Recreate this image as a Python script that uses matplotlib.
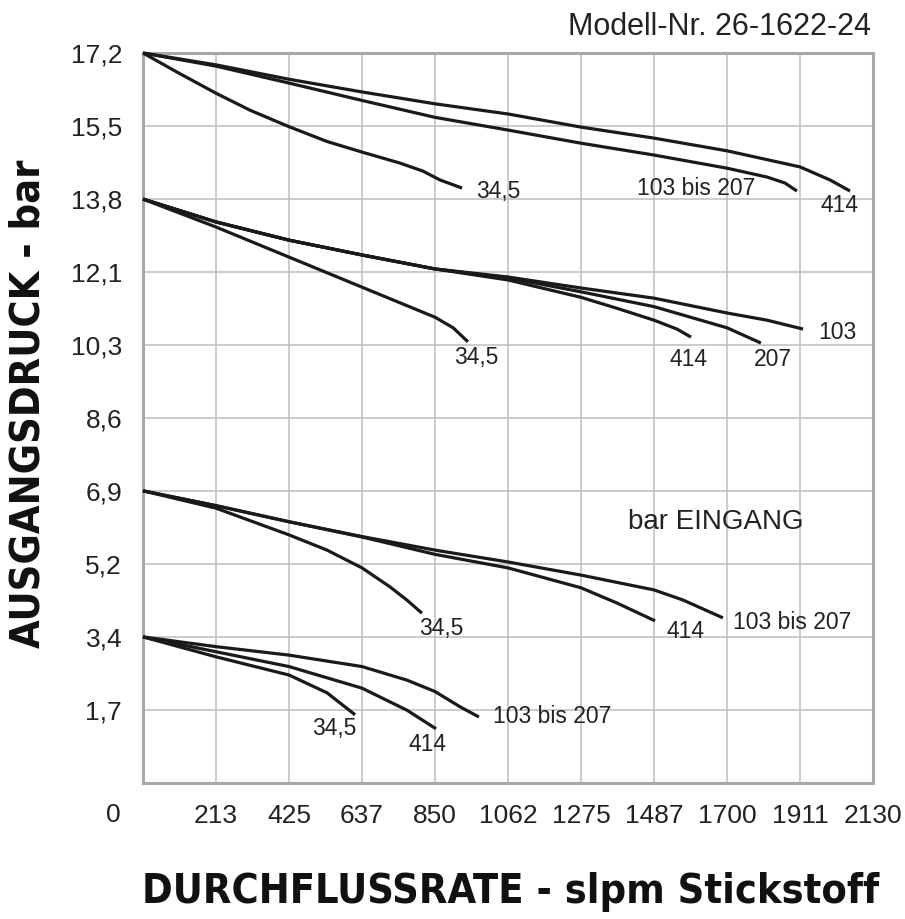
import numpy as np
import matplotlib
matplotlib.use("Agg")
import matplotlib.pyplot as plt

plt.rcParams['font.family'] = ['Liberation Sans', 'DejaVu Sans']

# Achsen (Teilung: 213 slpm bzw. 25 psi = 1,724 bar)
x_step = 213
y_step = 1.724
x_labels = ['213', '425', '637', '850', '1062', '1275', '1487', '1700', '1911', '2130']
y_labels = ['1,7', '3,4', '5,2', '6,9', '8,6', '10,3', '12,1', '13,8', '15,5', '17,2']

# Kurven: (Durchfluss slpm, Ausgangsdruck bar)
# Gruppe 17,2 bar
g1_414_x = [0, 213, 426, 639, 852, 1065, 1278, 1491, 1704, 1917, 2005, 2063]
g1_414_y = [17.24, 16.96, 16.62, 16.32, 16.04, 15.80, 15.49, 15.23, 14.93, 14.55, 14.24, 13.98]
g1_103_x = [0, 213, 426, 639, 852, 1065, 1278, 1491, 1704, 1821, 1873, 1908]
g1_103_y = [17.24, 16.93, 16.53, 16.12, 15.72, 15.42, 15.11, 14.83, 14.52, 14.31, 14.17, 13.98]
g1_34_x = [0, 99, 213, 312, 426, 537, 639, 750, 817, 867, 931]
g1_34_y = [17.24, 16.79, 16.29, 15.89, 15.50, 15.15, 14.90, 14.64, 14.45, 14.24, 14.05]

# Gruppe 13,8 bar
g2_34_x = [0, 213, 426, 639, 852, 905, 948]
g2_34_y = [13.79, 13.13, 12.42, 11.71, 11.00, 10.75, 10.42]
g2_414_x = [0, 213, 426, 639, 852, 1065, 1278, 1383, 1491, 1558, 1599]
g2_414_y = [13.79, 13.25, 12.82, 12.47, 12.14, 11.88, 11.47, 11.21, 10.93, 10.72, 10.53]
g2_207_x = [0, 213, 426, 639, 852, 1065, 1278, 1491, 1704, 1751, 1803]
g2_207_y = [13.79, 13.25, 12.82, 12.47, 12.14, 11.93, 11.60, 11.25, 10.75, 10.58, 10.39]
g2_103_x = [0, 213, 426, 639, 852, 1065, 1278, 1491, 1704, 1821, 1926]
g2_103_y = [13.79, 13.25, 12.82, 12.47, 12.14, 11.95, 11.69, 11.45, 11.10, 10.93, 10.72]

# Gruppe 6,9 bar
g3_34_x = [0, 213, 426, 537, 639, 721, 770, 814]
g3_34_y = [6.90, 6.49, 5.86, 5.50, 5.08, 4.63, 4.32, 4.01]
g3_103_x = [0, 213, 426, 639, 852, 1065, 1278, 1491, 1576, 1692]
g3_103_y = [6.90, 6.55, 6.17, 5.82, 5.50, 5.22, 4.91, 4.56, 4.32, 3.90]
g3_414_x = [0, 213, 426, 639, 852, 1065, 1278, 1383, 1494]
g3_414_y = [6.90, 6.55, 6.17, 5.81, 5.40, 5.08, 4.61, 4.25, 3.83]

# Gruppe 3,4 bar
g4_34_x = [0, 213, 426, 537, 619]
g4_34_y = [3.45, 2.98, 2.55, 2.13, 1.61]
g4_414_x = [0, 213, 426, 639, 770, 855]
g4_414_y = [3.45, 3.10, 2.75, 2.24, 1.72, 1.28]
g4_103_x = [0, 213, 426, 639, 770, 852, 925, 980]
g4_103_y = [3.45, 3.22, 3.02, 2.75, 2.43, 2.16, 1.80, 1.56]

curves = [
    (g1_414_x, g1_414_y), (g1_103_x, g1_103_y), (g1_34_x, g1_34_y),
    (g2_34_x, g2_34_y), (g2_414_x, g2_414_y), (g2_207_x, g2_207_y), (g2_103_x, g2_103_y),
    (g3_34_x, g3_34_y), (g3_103_x, g3_103_y), (g3_414_x, g3_414_y),
    (g4_34_x, g4_34_y), (g4_414_x, g4_414_y), (g4_103_x, g4_103_y),
]

# Beschriftung der Eingangsdruecke
curve_labels = [
    ('34,5', 1036, 13.98), ('103 bis 207', 1614, 14.03), ('414', 2031, 13.65),
    ('34,5', 972, 10.06), ('414', 1593, 9.99), ('207', 1838, 9.99), ('103', 2025, 10.65),
    ('34,5', 870, 3.66), ('414', 1584, 3.57), ('103 bis 207', 1894, 3.78),
    ('34,5', 557, 1.28), ('414', 829, 0.90), ('103 bis 207', 1193, 1.56),
]

W, H = 905, 919
fig = plt.figure(figsize=(W / 100, H / 100), dpi=100)
ax = fig.add_axes([143 / W, 1 - 783 / H, 730 / W, 730 / H])

ax.set_xlim(0, 10 * x_step)
ax.set_ylim(0, 10 * y_step)
ax.set_xticks(np.arange(1, 11) * x_step)
ax.set_xticklabels(x_labels)
ax.set_yticks(np.arange(1, 11) * y_step)
ax.set_yticklabels(y_labels)
ax.tick_params(length=0, labelsize=19, colors='#222222')
ax.tick_params(axis='x', pad=15)
ax.tick_params(axis='y', pad=15)
ax.grid(True, color='#bdbdbd', linewidth=1.1)
ax.set_axisbelow(True)
for s in ax.spines.values():
    s.set_color('#a8a8a8')
    s.set_linewidth(2.2)

for cx, cy in curves:
    ax.plot(cx, cy, color='#1a1a1a', linewidth=2.3, solid_capstyle='butt',
            solid_joinstyle='round', clip_on=False, zorder=3)

for txt, lx, ly in curve_labels:
    ax.text(lx, ly, txt, fontsize=16.5, ha='center', va='center', color='#222222')

ax.text(1672, 6.16, 'bar EINGANG', fontsize=20, ha='center', va='center', color='#222222')

fig.text(113 / W, 1 - 815 / H, '0', fontsize=19, ha='center', va='center', color='#222222')
fig.text(871 / W, 1 - 27 / H, 'Modell-Nr. 26-1622-24', fontsize=22, ha='right', va='center',
         color='#222222')

ylab = fig.text(29 / W, 1 - 404 / H, 'AUSGANGSDRUCK - bar', rotation=90, ha='center',
                va='center', fontsize=30, fontweight='heavy', fontstretch='condensed',
                family='DejaVu Sans', color='#111111')
xlab = fig.text(511 / W, 1 - 892 / H, 'DURCHFLUSSRATE - slpm Stickstoff', ha='center',
                va='center', fontsize=30, fontweight='heavy', fontstretch='condensed',
                family='DejaVu Sans', color='#111111')

# Groesse der Achsentitel an die Laenge im Original anpassen
renderer = fig.canvas.get_renderer()
for t, target, horiz in [(xlab, 737, True), (ylab, 488, False)]:
    bb = t.get_window_extent(renderer)
    size = bb.width if horiz else bb.height
    t.set_fontsize(t.get_fontsize() * target / size)

fig.savefig('out.png', dpi=100)
